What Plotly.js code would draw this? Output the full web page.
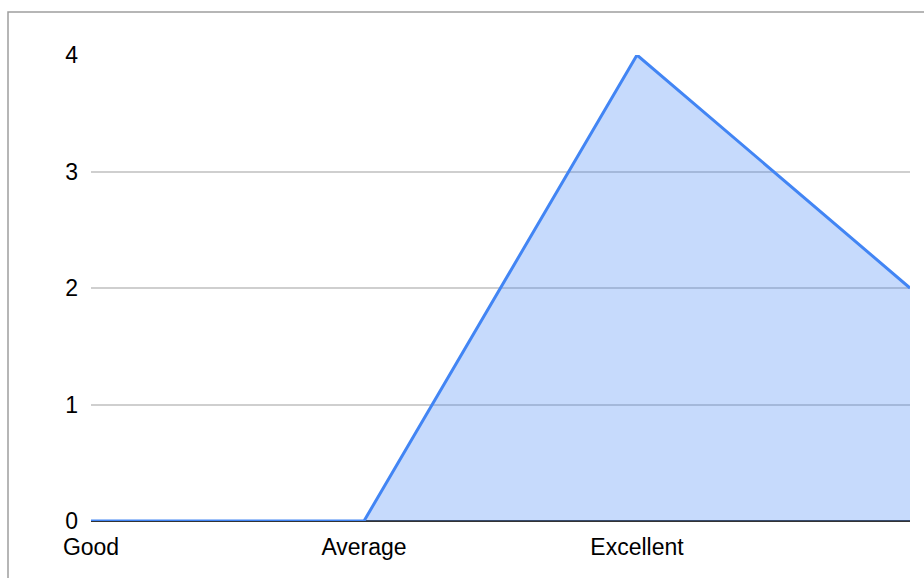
<!DOCTYPE html>
<html>
<head>
<meta charset="utf-8">
<script src="https://cdn.plot.ly/plotly-3.0.1.min.js"></script>
<style>html,body{margin:0;padding:0;background:#fff;}#chart{width:924px;height:578px;}</style>
</head>
<body>
<div id="chart"></div>
<script>
const xPositions = [0, 1, 2, 3];
const values = [0, 0, 4, 2];
const tickPositions = [0, 1, 2];
const tickLabels = ["Good", "Average", "Excellent"];
const yTicks = [0, 1, 2, 3, 4];

const trace = {
  x: xPositions,
  y: values,
  type: 'scatter',
  mode: 'lines',
  fill: 'tozeroy',
  fillcolor: 'rgba(66,133,244,0.3)',
  line: {color: '#4285F4', width: 3},
  hoverinfo: 'none'
};

const layout = {
  width: 924, height: 578,
  margin: {l: 91, r: 14, t: 55, b: 57},
  paper_bgcolor: '#fff', plot_bgcolor: '#fff',
  showlegend: false,
  font: {family: 'Liberation Sans, Arial, sans-serif', size: 23, color: '#000'},
  xaxis: {
    range: [0, 3], tickvals: tickPositions, ticktext: tickLabels,
    showgrid: false, zeroline: false, showline: false, ticks: '',
    ticklabelstandoff: 10
  },
  yaxis: {
    range: [0, 4], tickvals: yTicks, showgrid: true, gridcolor: '#cfcfcf', gridwidth: 2,
    zeroline: true, zerolinecolor: '#333333', zerolinewidth: 2,
    showline: false, ticks: '', ticklabelstandoff: 12
  },
  shapes: [{
    type: 'rect', xref: 'paper', yref: 'paper',
    x0: -83/819, x1: 1.5, y0: -1, y1: 1 + 43/466,
    line: {color: '#9e9e9e', width: 1.5}, fillcolor: 'rgba(0,0,0,0)', layer: 'below'
  }]
};

Plotly.newPlot('chart', [trace], layout, {displayModeBar: false, staticPlot: true});
</script>
</body>
</html>
